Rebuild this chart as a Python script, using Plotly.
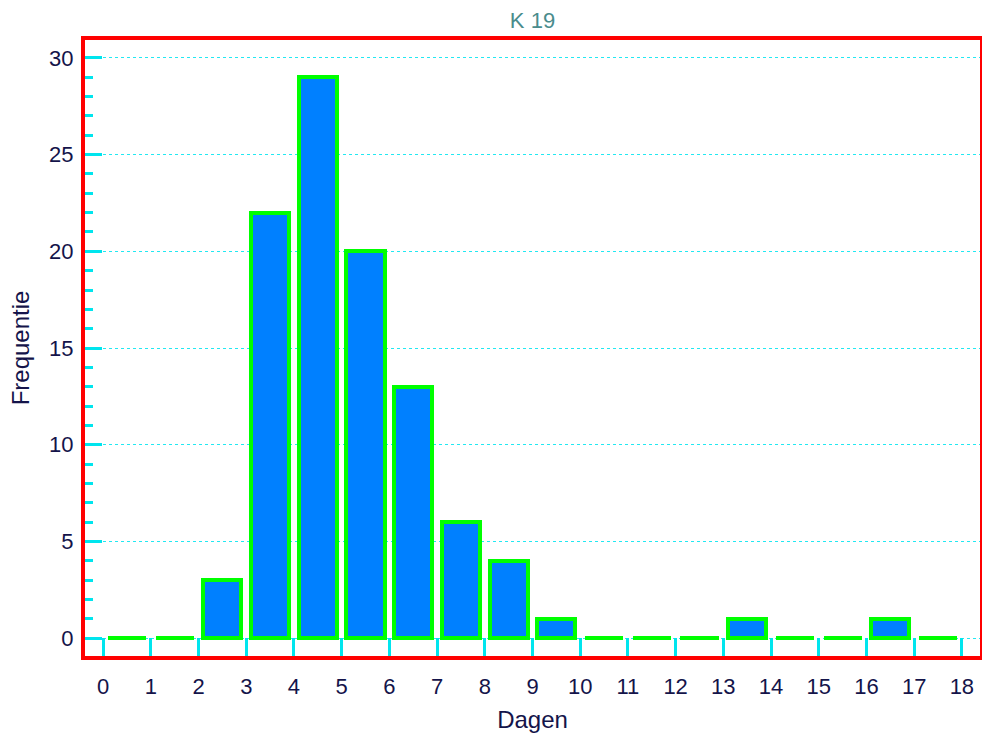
import plotly.graph_objects as go

bins = list(range(18))
counts = [0, 0, 3, 22, 29, 20, 13, 6, 4, 1, 0, 0, 0, 1, 0, 0, 1, 0]
x_ticks = list(range(19))
y_ticks = [0, 5, 10, 15, 20, 25, 30]
title_text = "K 19"
x_title = "Dagen"
y_title = "Frequentie"

centers = [b + 0.5 for b in bins]

fig = go.Figure()
fig.add_trace(go.Bar(
    x=centers, y=counts, width=0.8,
    marker=dict(color="#0080FF", line=dict(color="#00FF00", width=4)),
    hoverinfo="x+y",
))

navy = "#14144A"
cyan = "#00E5EE"
fig.update_layout(
    width=982, height=742,
    margin=dict(l=85, r=2, t=40, b=86, autoexpand=False),
    paper_bgcolor="white", plot_bgcolor="white",
    font=dict(family="Liberation Sans, Arial, sans-serif", color=navy),
    title=dict(text=title_text, xref="paper", x=0.5, xanchor="center", y=0.973, yanchor="middle",
               font=dict(size=22, color="#4A8C8C")),
    showlegend=False,
    bargap=0,
)
fig.update_xaxes(
    range=[-0.38, 18.38], tickvals=x_ticks, ticktext=[str(v) for v in x_ticks],
    ticks="inside", ticklen=18, tickwidth=3, tickcolor=cyan,
    showgrid=False, zeroline=False, automargin=False,
    showline=True, linecolor="#FF0000", linewidth=4, mirror=True,
    tickfont=dict(size=22, color=navy), ticklabelstandoff=8,
    title=dict(text=x_title, font=dict(size=24, color=navy), standoff=14),
)
fig.update_yaxes(
    range=[-0.93, 30.93], tickvals=y_ticks,
    ticks="inside", ticklen=17, tickwidth=3, tickcolor=cyan,
    minor=dict(dtick=1, ticks="inside", ticklen=8, tickwidth=3, tickcolor=cyan, showgrid=False),
    showgrid=True, gridcolor="#22E8F2", griddash="dot", gridwidth=1,
    zeroline=False, automargin=False,
    showline=True, linecolor="#FF0000", linewidth=4, mirror=True,
    tickfont=dict(size=22, color=navy), ticklabelstandoff=3,
    title=dict(text=y_title, font=dict(size=24, color=navy), standoff=14),
)

fig.write_html("out.html", config={"displayModeBar": False},
               post_script="document.body.style.margin='0';")
